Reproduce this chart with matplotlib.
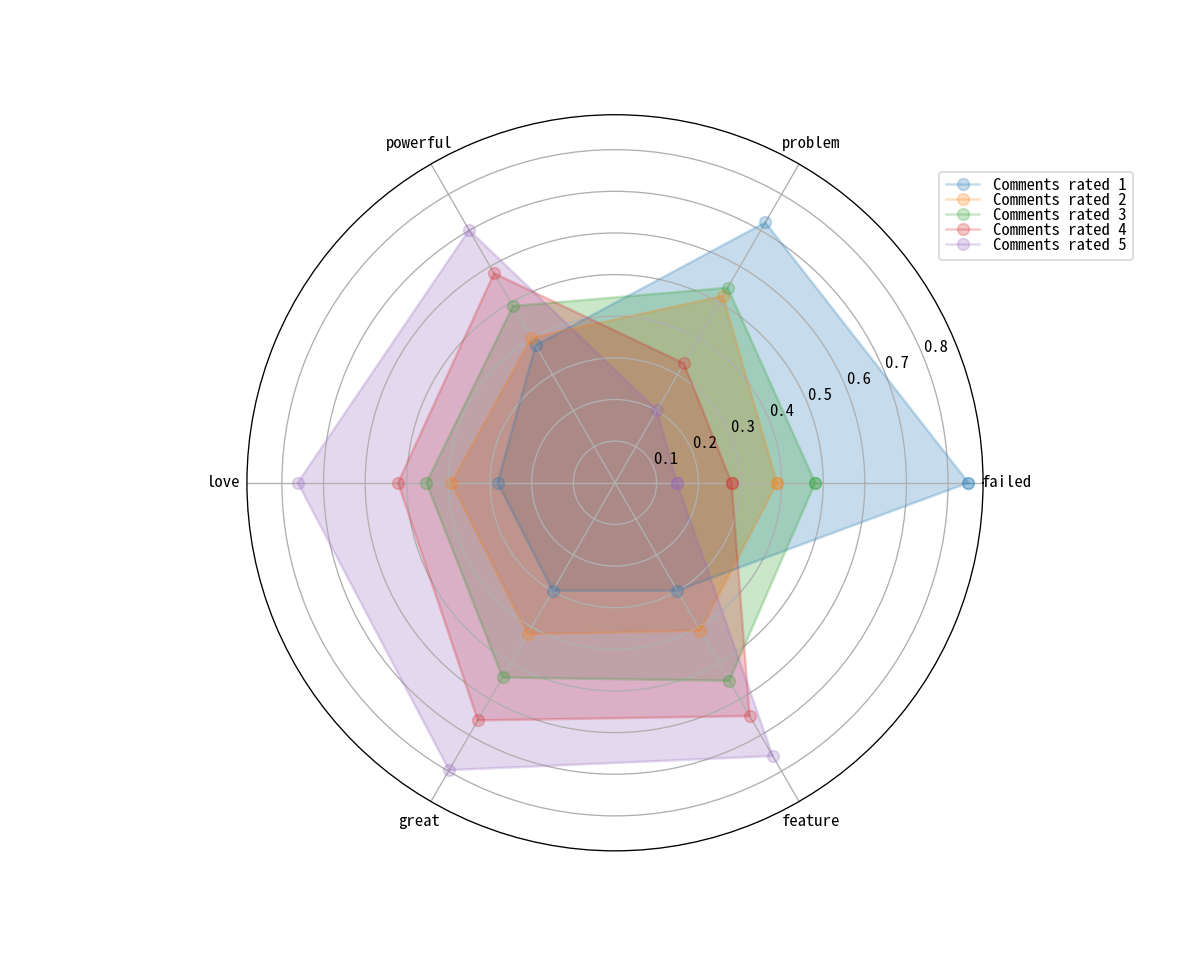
import numpy as np
import matplotlib
matplotlib.use("Agg")
import matplotlib.pyplot as plt

plt.rcParams['font.family'] = ['Noto Sans Mono CJK SC', 'DejaVu Sans Mono']

labels = ['failed', 'problem', 'powerful', 'love', 'great', 'feature']
series_names = ['Comments rated 1', 'Comments rated 2', 'Comments rated 3',
                'Comments rated 4', 'Comments rated 5']

rated_1 = [0.849, 0.722, 0.381, 0.282, 0.299, 0.299]
rated_2 = [0.389, 0.518, 0.402, 0.393, 0.420, 0.410]
rated_3 = [0.481, 0.541, 0.490, 0.453, 0.540, 0.549]
rated_4 = [0.280, 0.331, 0.581, 0.521, 0.659, 0.647]
rated_5 = [0.149, 0.201, 0.701, 0.762, 0.797, 0.758]
all_rated = [rated_1, rated_2, rated_3, rated_4, rated_5]

angles = np.linspace(0, 2 * np.pi, len(labels), endpoint=False)
angles_closed = np.concatenate([angles, angles[:1]])

fig = plt.figure(figsize=(10, 956 / 120), dpi=120)
ax = fig.add_subplot(111, polar=True)

for name, vals in zip(series_names, all_rated):
    v = np.concatenate([vals, vals[:1]])
    ax.plot(angles_closed, v, 'o-', linewidth=1.5, markersize=7, alpha=0.25, label=name)
    ax.fill(angles_closed, v, alpha=0.25)

ax.set_thetagrids(angles * 180 / np.pi, labels)
ax.set_rlabel_position(22.5)
ax.grid(True)
ax.legend(loc='upper right', bbox_to_anchor=(1.215, 0.934), labelspacing=0.0)

fig.savefig('out.png', dpi=120)
